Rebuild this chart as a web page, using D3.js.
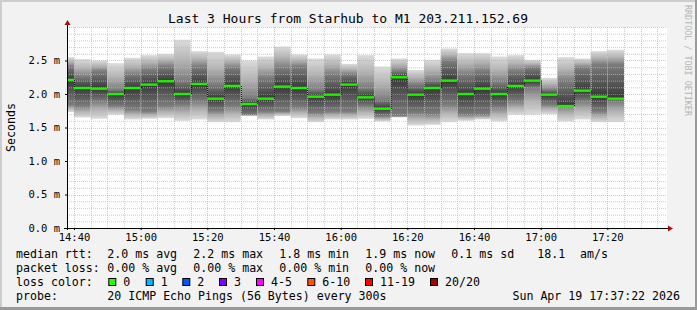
<!DOCTYPE html>
<html>
<head>
<meta charset="utf-8">
<script src="https://cdn.jsdelivr.net/npm/d3@7"></script>
<style>
  html, body { margin: 0; padding: 0; background: #f2f2f2; }
  svg { display: block; font-family: "DejaVu Sans Mono", monospace; }
  .axis path { display: none; }
  .axis line { stroke: #000; }
  .axis text { font-family: "DejaVu Sans Mono", monospace; font-size: 10.5px; fill: #000; }
</style>
</head>
<body>
<div id="chart"></div>
<script>
const width = 697, height = 310;

// 5 minute slots (end time of each interval), in ms values
const slots = d3.timeMinute.every(5).range(new Date(2026, 3, 19, 14, 40), new Date(2026, 3, 19, 17, 30));
const median = [2.21,2.09,2.08,2.00,2.09,2.14,2.19,2.00,2.15,1.93,2.12,1.85,1.93,2.11,2.09,1.96,1.99,2.14,1.95,1.78,2.25,1.99,2.09,2.20,2.00,2.08,2.00,2.12,2.20,1.99,1.82,2.05,1.96,1.93];
const pingMax = [2.55,2.52,2.50,2.46,2.54,2.58,2.60,2.81,2.64,2.63,2.59,2.50,2.56,2.71,2.59,2.53,2.59,2.45,2.58,2.41,2.53,2.36,2.51,2.68,2.61,2.61,2.56,2.58,2.51,2.24,2.55,2.53,2.64,2.66];
const pingMin = [1.73,1.65,1.63,1.69,1.62,1.63,1.64,1.60,1.62,1.58,1.58,1.67,1.62,1.67,1.64,1.58,1.62,1.62,1.63,1.59,1.65,1.53,1.54,1.58,1.60,1.62,1.59,1.69,1.69,1.70,1.59,1.62,1.58,1.58];
const coreHi = [2.41,2.26,2.34,2.06,2.29,2.36,2.41,2.19,2.41,2.14,2.39,1.94,2.24,2.39,2.41,2.06,2.29,2.29,2.09,1.91,2.34,2.14,2.20,2.49,2.29,2.34,2.17,2.34,2.39,2.06,2.19,2.39,2.44,2.44];
const coreLo = [1.84,1.82,1.89,1.82,1.77,1.74,1.82,1.84,1.89,1.75,1.82,1.69,1.74,1.74,1.80,1.72,1.74,1.74,1.82,1.67,1.67,1.72,1.70,1.84,1.69,1.69,1.80,1.89,2.09,1.84,1.82,1.89,1.74,1.89];

const yTicks = [0, 0.5, 1.0, 1.5, 2.0, 2.5];

const legendRtt = ["2.0 ms avg", "2.2 ms max", "1.8 ms min", "1.9 ms now", "0.1 ms sd", "18.1"];
const legendLoss = ["0.00 % avg", "0.00 % max", "0.00 % min", "0.00 % now"];
const lossLabels = ["0", "1", "2", "3", "4-5", "6-10", "11-19", "20/20"];
const lossColors = ["#26ff00", "#00b8ff", "#0059ff", "#7e00ff", "#ff00ff", "#ff5500", "#ff0000", "#a10000"];

const t0 = new Date(2026, 3, 19, 14, 37, 54);
const t1 = d3.timeHour.offset(t0, 3);

const x = d3.scaleTime().domain([t0, t1]).range([67, 667]);
const y = d3.scaleLinear().domain([0, 3]).range([228, 27]);

const svg = d3.select("#chart").append("svg")
    .attr("width", width)
    .attr("height", height);

// frame
svg.append("rect").attr("width", width).attr("height", height).attr("fill", "#f2f2f2");
svg.append("rect").attr("x", 0).attr("y", 0).attr("width", width).attr("height", 2).attr("fill", "#cdcdcd");
svg.append("rect").attr("x", 0).attr("y", 0).attr("width", 2).attr("height", height).attr("fill", "#cdcdcd");
svg.append("rect").attr("x", 0).attr("y", height - 3).attr("width", width).attr("height", 3).attr("fill", "#9a9a9a");
svg.append("rect").attr("x", width - 2).attr("y", 0).attr("width", 2).attr("height", height).attr("fill", "#9a9a9a");

svg.append("rect")
    .attr("x", x(t0)).attr("y", y(3))
    .attr("width", x(t1) - x(t0)).attr("height", y(0) - y(3))
    .attr("fill", "#fff");

const rows = slots.map(function(t, i) {
  return { end: t, begin: d3.max([t0, d3.timeMinute.offset(t, -5)]),
           med: median[i], hi: pingMax[i], lo: pingMin[i], chi: coreHi[i], clo: coreLo[i] };
});

// smoke gradients: light at the outer pings, darkest at the median
const defs = svg.append("defs");
rows.forEach(function(d, i) {
  const top = y(d.hi), bot = y(d.lo), span = bot - top;
  const f = function(v) { return (y(v) - top) / span; };
  const g = defs.append("linearGradient")
      .attr("id", "smoke" + i)
      .attr("gradientUnits", "userSpaceOnUse")
      .attr("x1", 0).attr("x2", 0).attr("y1", top).attr("y2", bot);
  [[0, "#dcdcdc"], [f(d.chi) / 2, "#b4b4b4"], [f(d.chi), "#7c7c7c"], [f(d.med), "#383838"],
   [f(d.clo), "#7c7c7c"], [(1 + f(d.clo)) / 2, "#b4b4b4"], [1, "#dcdcdc"]]
    .forEach(function(s) { g.append("stop").attr("offset", s[0]).attr("stop-color", s[1]); });
});

svg.selectAll("rect.smoke")
    .data(rows)
    .enter()
    .append("rect")
    .attr("class", "smoke")
    .attr("x", function(d) { return x(d.begin); })
    .attr("y", function(d) { return y(d.hi); })
    .attr("width", function(d) { return x(d.end) - x(d.begin); })
    .attr("height", function(d) { return y(d.lo) - y(d.hi); })
    .attr("fill", function(d, i) { return "url(#smoke" + i + ")"; });

// grid on top
const grid = svg.append("g");
d3.range(1, 30).forEach(function(k) {
  const v = k / 10;
  if (k % 5 === 0) return;
  grid.append("line").attr("x1", 67).attr("x2", 667).attr("y1", y(v) + 0.5).attr("y2", y(v) + 0.5)
      .attr("stroke", "rgba(190,190,190,0.75)").attr("stroke-dasharray", "1,1");
});
d3.timeMinute.every(5).range(t0, t1).forEach(function(t) {
  if (t.getMinutes() % 20 === 0) return;
  grid.append("line").attr("x1", Math.round(x(t)) + 0.5).attr("x2", Math.round(x(t)) + 0.5).attr("y1", y(3)).attr("y2", y(0))
      .attr("stroke", "rgba(190,190,190,0.75)").attr("stroke-dasharray", "1,1");
});
yTicks.concat([3]).forEach(function(v) {
  if (v === 0) return;
  grid.append("line").attr("x1", 67).attr("x2", 667).attr("y1", Math.round(y(v)) + 0.5).attr("y2", Math.round(y(v)) + 0.5)
      .attr("stroke", "rgba(255,128,128,0.6)").attr("stroke-dasharray", "1,1");
});
d3.timeMinute.every(20).range(t0, t1).forEach(function(t) {
  grid.append("line").attr("x1", Math.round(x(t)) + 0.5).attr("x2", Math.round(x(t)) + 0.5).attr("y1", y(3)).attr("y2", y(0))
      .attr("stroke", "rgba(255,128,128,0.6)").attr("stroke-dasharray", "1,1");
});

// median connectors
const conn = rows.slice(1).map(function(d, i) { return { t: d.begin, a: rows[i].med, b: d.med }; });
svg.selectAll("line.conn")
    .data(conn)
    .enter()
    .append("line")
    .attr("x1", function(d) { return Math.round(x(d.t)) + 0.5; })
    .attr("x2", function(d) { return Math.round(x(d.t)) + 0.5; })
    .attr("y1", function(d) { return y(d.a); })
    .attr("y2", function(d) { return y(d.b); })
    .attr("stroke", "#111")
    .attr("stroke-dasharray", "1,1");

// median line
svg.selectAll("line.med")
    .data(rows)
    .enter()
    .append("line")
    .attr("x1", function(d) { return x(d.begin); })
    .attr("x2", function(d) { return x(d.end); })
    .attr("y1", function(d) { return y(d.med); })
    .attr("y2", function(d) { return y(d.med); })
    .attr("stroke", "#20f000")
    .attr("stroke-width", 2.4);

// axes
svg.append("g").attr("class", "axis")
    .attr("transform", "translate(67,0)")
    .call(d3.axisLeft(y).tickValues(yTicks).tickSize(2).tickPadding(5)
      .tickFormat(function(d) { return d.toFixed(1) + " m"; }));

svg.append("g").attr("class", "axis")
    .attr("transform", "translate(0,228)")
    .call(d3.axisBottom(x).ticks(d3.timeMinute.every(20)).tickSize(2).tickPadding(4)
      .tickFormat(d3.timeFormat("%H:%M")));

svg.append("line").attr("x1", 67.5).attr("x2", 67.5).attr("y1", 24).attr("y2", 230).attr("stroke", "#000");
svg.append("line").attr("x1", 64).attr("x2", 669).attr("y1", 228.5).attr("y2", 228.5).attr("stroke", "#000");
svg.append("path").attr("d", "M64.5,25 L67.5,20 L70.5,25 Z").attr("fill", "#a01010");
svg.append("path").attr("d", "M668,225.5 L673,228.5 L668,231.5 Z").attr("fill", "#a01010");

// title and labels
svg.append("text")
    .attr("x", 348).attr("y", 23)
    .attr("text-anchor", "middle")
    .style("font-size", "13px")
    .text("Last 3 Hours from Starhub to M1 203.211.152.69");

svg.append("text")
    .attr("transform", "translate(15,127.5) rotate(-90)")
    .attr("text-anchor", "middle")
    .style("font-size", "11.6px")
    .text("Seconds");

svg.append("text")
    .attr("transform", "translate(685,5) rotate(90)")
    .style("font-size", "8.4px")
    .attr("fill", "#b4b4b4")
    .text("RRDTOOL / TOBI OETIKER");

// legend
const lg = svg.append("g").style("font-size", "11.6px");
lg.append("text").attr("x", 16).attr("y", 258).text("median rtt:");
legendRtt.forEach(function(s, i) {
  lg.append("text").attr("x", 107.3 + 86 * i).attr("y", 258).text(s);
});
lg.append("text").attr("x", 580).attr("y", 258).text("am/s");

lg.append("text").attr("x", 16).attr("y", 272).text("packet loss:");
legendLoss.forEach(function(s, i) {
  lg.append("text").attr("x", 107.3 + 86 * i).attr("y", 272).text(s);
});

lg.append("text").attr("x", 16).attr("y", 286).text("loss color:");
const swX = [108.3, 145.7, 182.3, 219, 256, 307.3, 365, 430];
lossLabels.forEach(function(s, i) {
  lg.append("rect").attr("x", swX[i] + 0.5).attr("y", 278.5).attr("width", 7).attr("height", 7)
      .attr("fill", lossColors[i]).attr("stroke", "#000");
  lg.append("text").attr("x", swX[i] + 15).attr("y", 286).text(s);
});

lg.append("text").attr("x", 16).attr("y", 300).text("probe:");
lg.append("text").attr("x", 107.3).attr("y", 300).text("20 ICMP Echo Pings (56 Bytes) every 300s");
lg.append("text").attr("x", 680).attr("y", 300).attr("text-anchor", "end").text("Sun Apr 19 17:37:22 2026");
</script>
</body>
</html>
